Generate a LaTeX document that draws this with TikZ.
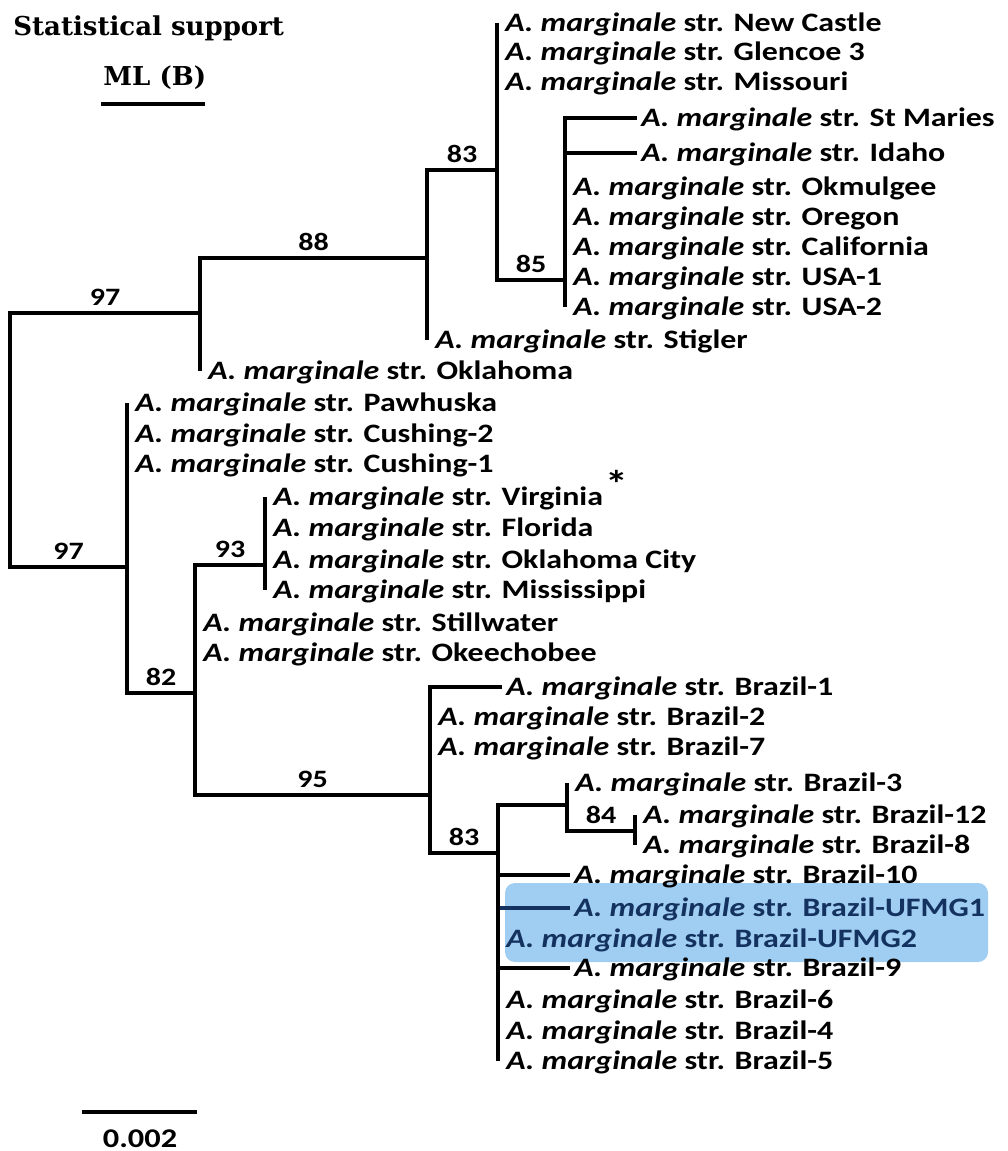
\documentclass[tikz,border=0pt]{standalone}
\usepackage{fontspec}
\setmainfont{Carlito}[FakeStretch=1.2]
\newfontfamily\titlefont{DejaVu Serif}
\usepackage{tikz}
\definecolor{BoxBlue}{RGB}{160,206,242}
\definecolor{NavyText}{RGB}{20,50,95}
\newcommand{\amg}{\textit{A.~marginale} str.}

\begin{document}
\begin{tikzpicture}[x=0.5pt, y=-0.5pt,
    branch/.style={line width=2.4pt, line join=miter},
    leaf/.style={anchor=west, font=\bfseries\fontsize{13.3}{16}\selectfont, text height=8.6pt, text depth=0pt, inner xsep=2pt, inner ysep=0pt},
    support/.style={above=1.5pt, inner sep=1pt, font=\bfseries\fontsize{12.5}{15}\selectfont},
    legend/.style={anchor=base west, inner sep=0pt, font=\titlefont\bfseries\fontsize{13}{16}\selectfont}]
  \useasboundingbox (0,0) rectangle (1007,1151);

  % Legend
  \node[legend] (title) at (13,35) {Statistical support};
  \node[legend] (ml) at (103,85) {ML (B)};
  \coordinate (mlL) at (101,104);
  \coordinate (mlR) at (205,104);
  \draw[line width=2.2pt] (mlL) -- (mlR);

  % Highlighted UFMG strains
  \fill[BoxBlue, rounded corners=5pt] (505,883) rectangle (988,962);

  % Internal nodes
  \coordinate (root) at (10,440);
  \coordinate (nA) at (200,313);
  \coordinate (nB) at (427,258);
  \coordinate (nC) at (497,170);
  \coordinate (nD) at (565,280);
  \coordinate (nE) at (127,567);
  \coordinate (nF) at (195,693);
  \coordinate (nG) at (265,565);
  \coordinate (nH) at (430,795);
  \coordinate (nI) at (498,853);
  \coordinate (nJ) at (567,805);
  \coordinate (nK) at (635,831);

  % Upper clade
  \draw[branch] (root) |- (nA) node[support, pos=0.75] (bs97a) {97};
  \draw[branch] (nA) |- (nB) node[support, pos=0.75] (bs88) {88};
  \node[leaf] (okla) at (204,371) {\amg{} Oklahoma};
  \draw[branch] (nA) -- (nA |- okla.west);
  \draw[branch] (nB) |- (nC) node[support, pos=0.75] (bs83a) {83};
  \node[leaf] (stig) at (431,340) {\amg{} Stigler};
  \draw[branch] (nB) -- (nB |- stig.west);
  \draw[branch] (nC) |- (nD) node[support, pos=0.75] (bs85) {85};
  \foreach \y/\s [count=\i] in {23/New Castle, 52/Glencoe 3, 82/Missouri}
    \node[leaf] (c\i) at (501,\y) {\amg{} \s};
  \draw[branch] (nC) -- (nC |- c1.west);
  \node[leaf] (stm) at (637,118) {\amg{} St Maries};
  \node[leaf] (ida) at (637,153) {\amg{} Idaho};
  \draw[branch] (nD) |- (stm.west);
  \draw[branch] (nD) |- (ida.west);
  \foreach \y/\s [count=\i] in {187/Okmulgee, 217/Oregon, 247/California, 277/USA-1, 307/USA-2}
    \node[leaf] (d\i) at (569,\y) {\amg{} \s};
  \draw[branch] (nD) -- (nD |- d5.west);

  % Lower clade
  \draw[branch] (root) |- (nE) node[support, pos=0.75] (bs97b) {97};
  \foreach \y/\s [count=\i] in {403/Pawhuska, 434/Cushing-2, 464/Cushing-1}
    \node[leaf] (e\i) at (131,\y) {\amg{} \s};
  \draw[branch] (nE) -- (nE |- e1.west);
  \draw[branch] (nE) |- (nF) node[support, pos=0.75] (bs82) {82};
  \draw[branch] (nF) |- (nG) node[support, pos=0.75] (bs93) {93};
  \draw[branch] (nF) |- (nH) node[support, pos=0.75] (bs95) {95};
  \foreach \y/\s [count=\i] in {623/Stillwater, 653/Okeechobee}
    \node[leaf] (f\i) at (199,\y) {\amg{} \s};
  \node[leaf] (g1) at (269,497) {\amg{} Virginia\hspace{1pt}\raisebox{4pt}{\fontsize{19}{19}\selectfont*}};
  \foreach \y/\s [count=\i from 2] in {528/Florida, 560/Oklahoma City, 590/Mississippi}
    \node[leaf] (g\i) at (269,\y) {\amg{} \s};
  \draw[branch] (nG) -- (nG |- g1.west);
  \draw[branch] (nG) -- (nG |- g4.west);

  % Brazilian clade
  \node[leaf] (h1) at (502,687) {\amg{} Brazil-1};
  \draw[branch] (nH) |- (h1.west);
  \foreach \y/\s [count=\i from 2] in {717/Brazil-2, 747/Brazil-7}
    \node[leaf] (h\i) at (434,\y) {\amg{} \s};
  \draw[branch] (nH) |- (nI) node[support, pos=0.75] (bs83b) {83};
  \draw[branch] (nI) |- (nJ);
  \node[leaf] (j1) at (571,783) {\amg{} Brazil-3};
  \draw[branch] (nJ) -- (nJ |- j1.west);
  \draw[branch] (nJ) |- (nK) node[support, pos=0.75] (bs84) {84};
  \foreach \y/\s [count=\i] in {815/Brazil-12, 845/Brazil-8}
    \node[leaf] (k\i) at (639,\y) {\amg{} \s};
  \draw[branch] (nK) -- (nK |- k1.west);
  \draw[branch] (nK) -- (nK |- k2.west);
  \node[leaf] (i1) at (570,875) {\amg{} Brazil-10};
  \node[leaf, text=NavyText] (i2) at (570,908) {\amg{} Brazil-UFMG1};
  \node[leaf, text=NavyText] (i3) at (502,939) {\amg{} Brazil-UFMG2};
  \node[leaf] (i4) at (570,968) {\amg{} Brazil-9};
  \draw[branch] (nI) |- (i1.west);
  \draw[branch, NavyText] (nI |- i2.west) -- (i2.west);
  \draw[branch] (nI) |- (i4.west);
  \foreach \y/\s [count=\i from 5] in {1000/Brazil-6, 1031/Brazil-4, 1061/Brazil-5}
    \node[leaf] (i\i) at (502,\y) {\amg{} \s};
  \draw[branch] (nI) -- (nI |- i7.west);

  % Scale bar
  \coordinate (sbL) at (82,1112);
  \coordinate (sbR) at (197,1112);
  \draw[line width=2.2pt] (sbL) -- (sbR);
  \node[anchor=base, inner sep=0pt, font=\bfseries\fontsize{13.5}{16}\selectfont] (sbT) at (140,1147) {0.002};
\end{tikzpicture}
\end{document}
